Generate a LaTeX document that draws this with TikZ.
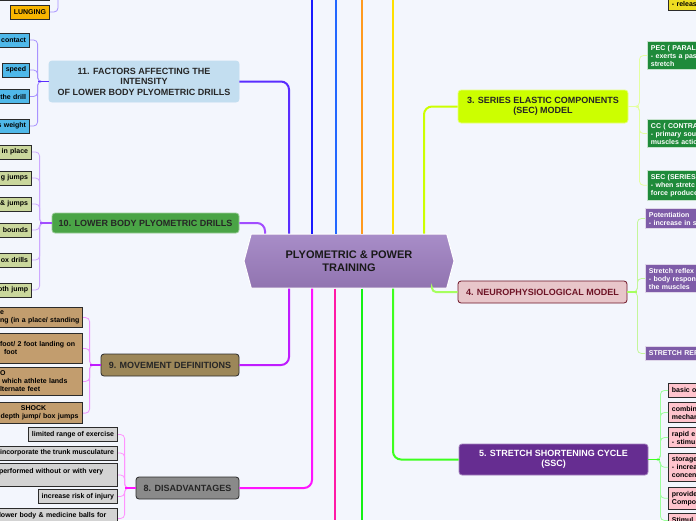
\documentclass[tikz,border=0pt]{standalone}
\usepackage{fontspec}
\setmainfont{Liberation Sans}
\usepackage{xcolor}
\usepackage{tikz}
\usetikzlibrary{shapes.symbols}

\definecolor{pageBg}{HTML}{F3F6FD}
\definecolor{hubTop}{HTML}{A88DC8}
\definecolor{hubBot}{HTML}{9174B0}
\definecolor{boxLine}{HTML}{2B2B2B}
\definecolor{facFill}{HTML}{C3DEF0}
\definecolor{facLeaf}{HTML}{4FB8E9}
\definecolor{drFill}{HTML}{4AA446}
\definecolor{drLeaf}{HTML}{CAD79C}
\definecolor{mvFill}{HTML}{9C8759}
\definecolor{mvLeaf}{HTML}{C29D6E}
\definecolor{disFill}{HTML}{8A8A8A}
\definecolor{disLeaf}{HTML}{D3D3D3}
\definecolor{secFill}{HTML}{CCFF00}
\definecolor{secLeaf}{HTML}{1F8A3A}
\definecolor{neuFill}{HTML}{E8C6CA}
\definecolor{neuLine}{HTML}{6E1426}
\definecolor{neuLeaf}{HTML}{7E5CA8}
\definecolor{sscFill}{HTML}{662D91}
\definecolor{sscLeaf}{HTML}{FFC4CD}
\definecolor{lungFill}{HTML}{F8B500}
\definecolor{relFill}{HTML}{EEDD22}
% connector colours
\definecolor{facLink}{HTML}{5A2DFF}
\definecolor{facTwig}{HTML}{A892FF}
\definecolor{drLink}{HTML}{A24DFF}
\definecolor{drTwig}{HTML}{CDA8FF}
\definecolor{mvLink}{HTML}{BF1CFF}
\definecolor{mvTwig}{HTML}{EE94FF}
\definecolor{disLink}{HTML}{FF14FF}
\definecolor{disTwig}{HTML}{FF94FF}
\definecolor{secLink}{HTML}{CCFF00}
\definecolor{secTwig}{HTML}{E4FFA0}
\definecolor{neuLink}{HTML}{A6FF5E}
\definecolor{neuTwig}{HTML}{C4F69A}
\definecolor{sscLink}{HTML}{3DFF1F}
\definecolor{sscTwig}{HTML}{9CFF9C}
\definecolor{lineBlue}{HTML}{1A1AFF}
\definecolor{lineSky}{HTML}{2266FF}
\definecolor{lineOrange}{HTML}{FF9A1F}
\definecolor{lineYellow}{HTML}{FFE000}
\definecolor{linePink}{HTML}{FF1AA6}
\definecolor{lineGreen}{HTML}{14F014}

\begin{document}
\begin{tikzpicture}[x=1pt,y=-1pt,
    topic/.style={rectangle, rounded corners=3pt, align=center, inner sep=2pt, line width=0.8pt,
                  font=\fontsize{9}{10.5}\selectfont\bfseries},
    leaf/.style={draw=boxLine, rectangle, line width=0.9pt, inner sep=3.5pt, minimum height=14pt,
                 font=\fontsize{7}{8}\selectfont\bfseries},
    link/.style={line width=2pt, rounded corners=8pt},
    stem/.style={line width=1.6pt},
    twig/.style={line width=0.8pt, rounded corners=4pt}]

    \useasboundingbox (0,0) rectangle (696,520);
    \fill[pageBg] (0,0) rectangle (696,520);
    \clip (0,0) rectangle (696,520);

    % Centre
    \node (hub) [signal, signal to=east and west, signal pointer angle=150, draw=white, line width=1pt,
                 top color=hubTop, bottom color=hubBot, minimum width=210pt, minimum height=54pt,
                 align=center, text=black!90, font=\fontsize{11}{13.5}\selectfont\bfseries]
                 at (349,261) {PLYOMETRIC \& POWER\\TRAINING};

    % Main topics, left side
    \node (factors)  [topic, fill=facFill, draw=facFill, text=black!85, minimum width=190pt, minimum height=41pt]
                     at (144,81.5) {11. FACTORS AFFECTING THE\\INTENSITY\\OF LOWER BODY PLYOMETRIC DRILLS};
    \node (drills)   [topic, fill=drFill, draw=drFill!55!white, text=black!85, minimum width=187pt, minimum height=20pt]
                     at (145.5,223) {10. LOWER BODY PLYOMETRIC DRILLS};
    \node (moves)    [topic, fill=mvFill, draw=boxLine, text=black!85, minimum width=138pt, minimum height=22pt]
                     at (170,365) {9. MOVEMENT DEFINITIONS};
    \node (cons)     [topic, fill=disFill, draw=boxLine, text=black!85, minimum width=103pt, minimum height=22pt]
                     at (187.5,488) {8. DISADVANTAGES};

    % Main topics, right side
    \node (secModel)   [topic, fill=secFill, draw=secFill!50!white, text=black!85, minimum width=170pt, minimum height=33pt]
                       at (543,106.5) {3. SERIES ELASTIC COMPONENTS\\(SEC) MODEL};
    \node (neuroModel) [topic, fill=neuFill, draw=neuLine, text=neuLine, minimum width=169pt, minimum height=22pt]
                       at (542.5,292) {4. NEUROPHYSIOLOGICAL MODEL};
    \node (ssc)        [topic, fill=sscFill, draw=sscFill!60!white, text=white, minimum width=189pt, minimum height=31pt]
                       at (553.5,459.5) {5. STRETCH SHORTENING CYCLE\\(SSC)};

    % Leaves of 11
    \node (facContact) [leaf, fill=facLeaf, text width=60pt, align=right, anchor=east] at (30,40) {contact};
    \node (facSpeed)   [leaf, fill=facLeaf, anchor=east] at (30,70) {speed};
    \node (facDrill)   [leaf, fill=facLeaf, text width=60pt, align=right, anchor=east] at (30,96.5) {the drill};
    \node (facWeight)  [leaf, fill=facLeaf, text width=60pt, align=right, anchor=east] at (30,126) {s weight};

    % Leaves of 10
    \node (drInPlace) [leaf, fill=drLeaf, text width=60pt, align=right, anchor=east] at (32,152) {in place};
    \node (drJumps)   [leaf, fill=drLeaf, text width=60pt, align=right, anchor=east] at (32,178) {g jumps};
    \node (drHops)    [leaf, fill=drLeaf, text width=60pt, align=right, anchor=east] at (32,204) {\& jumps};
    \node (drBounds)  [leaf, fill=drLeaf, text width=60pt, align=right, anchor=east] at (32,230) {bounds};
    \node (drBox)     [leaf, fill=drLeaf, text width=60pt, align=right, anchor=east] at (32,260) {ox drills};
    \node (drDepth)   [leaf, fill=drLeaf, text width=60pt, align=right, anchor=east] at (32,290) {oth jump};

    % Leaves of 9
    \node (mvJump)  [leaf, fill=mvLeaf, text width=79pt, align=left, anchor=north east] at (83,307)
                    {e\\\mbox{ng (in a place/ standing}};
    \node (mvHop)   [leaf, fill=mvLeaf, text width=79pt, align=left, anchor=north east, minimum height=30pt] at (83,333)
                    {\mbox{foot/ 2 foot landing on}\\\hspace*{4pt}foot};
    \node (mvBound) [leaf, fill=mvLeaf, text width=79pt, align=left, anchor=north east] at (83,367)
                    {O\\\hspace*{2pt}\mbox{which athlete lands}\\lternate feet};
    \node (mvShock) [leaf, fill=mvLeaf, text width=79pt, align=center, anchor=north east] at (83,402)
                    {\hspace*{-12pt}SHOCK\\\mbox{depth jump/ box jumps}};

    % Leaves of 8
    \node (disRange)  [leaf, fill=disLeaf, anchor=east] at (118,434.5) {limited range of exercise};
    \node (disTrunk)  [leaf, fill=disLeaf, anchor=east] at (118,453) {incorporate the trunk musculature};
    \node (disEquip)  [leaf, fill=disLeaf, text width=115pt, align=left, anchor=north east, minimum height=23pt] at (118,463)
                      {\mbox{performed without or with very}\\\mbox{}};
    \node (disInjury) [leaf, fill=disLeaf, anchor=east] at (118,496.5) {increase risk of injury};
    \node (disBalls)  [leaf, fill=disLeaf, text width=115pt, align=left, anchor=north east] at (118,508)
                      {\mbox{lower body \& medicine balls for}\\\mbox{}};

    % Leaves of 3
    \node (secPec) [leaf, fill=secLeaf, draw=secLeaf!25!white, text=white, text width=60pt, align=left, anchor=north west]
                   at (647,41) {PEC ( PARAL\\- exerts a pas\\stretch};
    \node (secCc)  [leaf, fill=secLeaf, draw=secLeaf!25!white, text=white, text width=60pt, align=left, anchor=north west]
                   at (647,119) {CC ( CONTRA\\- primary sou\\muscles actio};
    \node (secSec) [leaf, fill=secLeaf, draw=secLeaf!25!white, text=white, text width=60pt, align=left, anchor=north west]
                   at (647,170) {SEC (SERIES\\- when stretc\\force produce};

    % Leaves of 4
    \node (neuPot)    [leaf, fill=neuLeaf, draw=neuLeaf!25!white, text=white, text width=60pt, align=left, anchor=north west]
                      at (645,208) {Potentiation\\- increase in s};
    \node (neuReflex) [leaf, fill=neuLeaf, draw=neuLeaf!25!white, text=white, text width=60pt, align=left, anchor=north west]
                      at (645,264) {Stretch reflex\\- body respon\\the muscles};
    \node (neuSrc)    [leaf, fill=neuLeaf, draw=neuLeaf!25!white, text=white, text width=60pt, align=left, anchor=north west]
                      at (645,346) {STRETCH REF};

    % Leaves of 5
    \node (sscBasic) [leaf, fill=sscLeaf, text width=40pt, align=left, anchor=north west] at (668,383) {basic o};
    \node (sscComb)  [leaf, fill=sscLeaf, text width=40pt, align=left, anchor=north west] at (668,402) {combin\\mechan};
    \node (sscRapid) [leaf, fill=sscLeaf, text width=40pt, align=left, anchor=north west] at (668,427) {rapid e\\- stimu};
    \node (sscStore) [leaf, fill=sscLeaf, text width=40pt, align=left, anchor=north west] at (668,453) {storage\\- increa\\concen};
    \node (sscProv)  [leaf, fill=sscLeaf, text width=40pt, align=left, anchor=north west] at (668,487) {provide\\Compo};
    \node (sscStim)  [leaf, fill=sscLeaf, text width=40pt, align=left, anchor=north west] at (668,513) {Stimul};

    % Cut-off boxes at the top
    \node (upperBox) [leaf, fill=mvLeaf, minimum width=70pt, anchor=south east] at (50,1) {};
    \node (lunging)  [leaf, fill=lungFill, anchor=east] at (50,12) {LUNGING};
    \node (relTop)   [leaf, fill=relFill, text width=40pt, align=left, anchor=south west] at (668,11) {- releas};

    % Free ends at the border
    \coordinate (lungUp)     at (58,0);
    \coordinate (upBlue)     at (312,0);
    \coordinate (upSky)      at (336,0);
    \coordinate (upOrange)   at (362,0);
    \coordinate (upYellow)   at (393,0);
    \coordinate (downPink)   at (335,520);
    \coordinate (downGreen)  at (362,520);

    % Centre links
    \draw[link, lineBlue]   (hub.north -| upBlue) -- (upBlue);
    \draw[link, lineSky]    (hub.north -| upSky) -- (upSky);
    \draw[link, lineOrange] (hub.north -| upOrange) -- (upOrange);
    \draw[link, lineYellow] (hub.north -| upYellow) -- (upYellow);
    \draw[link, linePink]   (hub.south -| downPink) -- (downPink);
    \draw[link, lineGreen]  (hub.south -| downGreen) -- (downGreen);

    \draw[link, facLink] (factors.east) -| ([xshift=-60pt]hub.north);
    \draw[link, drLink]  (drills.east) -| ([xshift=-84pt]hub.north);
    \draw[link, secLink] (secModel.west) -| ([xshift=75pt]hub.north);
    \draw[link, mvLink]  (moves.east) -| ([xshift=-60pt]hub.south);
    \draw[link, disLink] (cons.east) -| ([xshift=-37pt]hub.south);
    \draw[link, sscLink] (ssc.west) -| ([xshift=44pt]hub.south);
    \draw[link, neuLink, rounded corners=4pt] ([xshift=83pt]hub.south) |- (neuroModel.west);

    % Brackets of 11
    \draw[twig, facTwig] (factors.west) -- ++(-11,0) |- (facContact.east);
    \draw[twig, facTwig] (factors.west) -- ++(-11,0) |- (facSpeed.east);
    \draw[twig, facTwig] (factors.west) -- ++(-11,0) |- (facDrill.east);
    \draw[twig, facTwig] (factors.west) -- ++(-11,0) |- (facWeight.east);
    \draw[stem, facLink] (factors.west) -- ++(-11,0);

    % Brackets of 10
    \draw[twig, drTwig] (drills.west) -- ++(-12,0) |- (drInPlace.east);
    \draw[twig, drTwig] (drills.west) -- ++(-12,0) |- (drJumps.east);
    \draw[twig, drTwig] (drills.west) -- ++(-12,0) |- (drHops.east);
    \draw[twig, drTwig] (drills.west) -- ++(-12,0) |- (drBounds.east);
    \draw[twig, drTwig] (drills.west) -- ++(-12,0) |- (drBox.east);
    \draw[twig, drTwig] (drills.west) -- ++(-12,0) |- (drDepth.east);
    \draw[stem, drLink] (drills.west) -- ++(-12,0);

    % Brackets of 9
    \draw[twig, mvTwig] (moves.west) -- ++(-11,0) |- (mvJump.east);
    \draw[twig, mvTwig] (moves.west) -- ++(-11,0) |- (mvHop.east);
    \draw[twig, mvTwig] (moves.west) -- ++(-11,0) |- (mvBound.east);
    \draw[twig, mvTwig] (moves.west) -- ++(-11,0) |- (mvShock.east);
    \draw[stem, mvLink] (moves.west) -- ++(-11,0);

    % Brackets of 8
    \draw[twig, disTwig] (cons.west) -- ++(-11,0) |- (disRange.east);
    \draw[twig, disTwig] (cons.west) -- ++(-11,0) |- (disTrunk.east);
    \draw[twig, disTwig] (cons.west) -- ++(-11,0) |- (disEquip.east);
    \draw[twig, disTwig] (cons.west) -- ++(-11,0) |- (disInjury.east);
    \draw[twig, disTwig] (cons.west) -- ++(-11,0) |- (disBalls.east);
    \draw[stem, disLink] (cons.west) -- ++(-11,0);

    % Brackets of 3
    \draw[twig, secTwig] (secModel.east) -- ++(11,0) |- (secPec.west);
    \draw[twig, secTwig] (secModel.east) -- ++(11,0) |- (secCc.west);
    \draw[twig, secTwig] (secModel.east) -- ++(11,0) |- (secSec.west);
    \draw[stem, secTwig] (secModel.east) -- ++(11,0);

    % Brackets of 4
    \draw[twig, neuTwig] (neuroModel.east) -- ++(10,0) |- (neuPot.west);
    \draw[twig, neuTwig] (neuroModel.east) -- ++(10,0) |- (neuReflex.west);
    \draw[twig, neuTwig] (neuroModel.east) -- ++(10,0) |- (neuSrc.west);
    \draw[stem, neuLink] (neuroModel.east) -- ++(10,0);

    % Brackets of 5
    \draw[twig, sscTwig] (ssc.east) -- ++(12,0) |- (sscBasic.west);
    \draw[twig, sscTwig] (ssc.east) -- ++(12,0) |- (sscComb.west);
    \draw[twig, sscTwig] (ssc.east) -- ++(12,0) |- (sscRapid.west);
    \draw[twig, sscTwig] (ssc.east) -- ++(12,0) |- (sscStore.west);
    \draw[twig, sscTwig] (ssc.east) -- ++(12,0) |- (sscProv.west);
    \draw[twig, sscTwig] (ssc.east) -- ++(12,0) |- (sscStim.west);
    \draw[stem, sscLink] (ssc.east) -- ++(12,0);

    % Lunging goes up out of view
    \draw[twig, facTwig] (lunging.east) -| (lungUp);
\end{tikzpicture}
\end{document}
